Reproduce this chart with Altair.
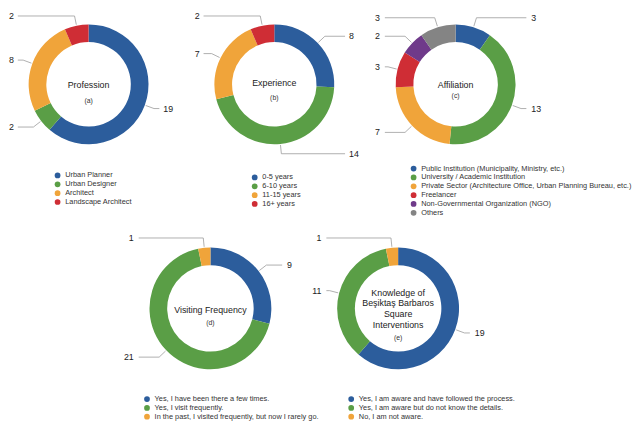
import altair as alt
import pandas as pd

BLUE = "#2c5d9c"
GREEN = "#5a9e46"
ORANGE = "#f0a43a"
RED = "#cf2d35"
PURPLE = "#6f3a8a"
GRAY = "#848484"

FONT = "Liberation Sans"

prof_cats = ["Urban Planner", "Urban Designer", "Architect", "Landscape Architect"]
prof_vals = [19, 2, 8, 2]

exp_cats = ["0-5 years", "6-10 years", "11-15 years", "16+ years"]
exp_vals = [8, 14, 7, 2]

aff_cats = [
    "Public Institution (Municipality, Ministry, etc.)",
    "University / Academic Institution",
    "Private Sector (Architecture Office, Urban Planning Bureau, etc.)",
    "Freelancer",
    "Non-Governmental Organization (NGO)",
    "Others",
]
aff_vals = [3, 13, 7, 3, 2, 3]

vis_cats = [
    "Yes, I have been there a few times.",
    "Yes, I visit frequently.",
    "In the past, I visited frequently, but now I rarely go.",
]
vis_vals = [9, 21, 1]

know_cats = [
    "Yes, I am aware and have followed the process.",
    "Yes, I am aware but do not know the details.",
    "No, I am not aware.",
]
know_vals = [19, 11, 1]

titles = {
    "a": (["Profession"], "(a)"),
    "b": (["Experience"], "(b)"),
    "c": (["Affiliation"], "(c)"),
    "d": (["Visiting Frequency"], "(d)"),
    "e": (["Knowledge of", "Beşiktaş Barbaros", "Square", "Interventions"], "(e)"),
}


def panel(cats, vals, colors, key, W, H, r_in, r_out, lend, ltxt,
          leg_x, leg_y, title_dy, sub_dy):
    df = pd.DataFrame({"cat": cats, "value": vals, "idx": list(range(len(cats)))})
    cx, cy = W / 2, H / 2
    base = (
        alt.Chart(df)
        .transform_window(cum="sum(value)", sort=[alt.SortField("idx")])
        .transform_joinaggregate(total="sum(value)")
        .transform_calculate(mid="2*PI*(datum.cum - datum.value/2)/datum.total")
        .transform_calculate(s="sin(datum.mid)")
        .transform_calculate(c="cos(datum.mid)")
        .transform_calculate(x0=f"{cx} + {r_out + 1}*datum.s")
        .transform_calculate(y0=f"{cy} - {r_out + 1}*datum.c")
        .transform_calculate(x1=f"{cx} + {r_out + 10}*datum.s")
        .transform_calculate(y1=f"{cy} - {r_out + 10}*datum.c")
        .transform_calculate(side="datum.s >= 0 ? 1 : -1")
        .transform_calculate(x2=f"{cx} + datum.side*{lend}")
        .transform_calculate(lx=f"{cx} + datum.side*{ltxt}")
    )
    arcs = base.mark_arc(innerRadius=r_in, outerRadius=r_out).encode(
        theta=alt.Theta("value:Q", stack=True),
        order=alt.Order("idx:Q"),
        color=alt.Color(
            "cat:N",
            scale=alt.Scale(domain=cats, range=colors),
            legend=alt.Legend(
                title=None,
                orient="none",
                legendX=leg_x,
                legendY=leg_y,
                symbolType="circle",
                symbolSize=34,
                symbolStrokeWidth=0,
                labelFontSize=7.5,
                labelFont=FONT,
                labelOffset=4,
                rowPadding=0,
                padding=0,
                labelLimit=400,
            ),
        ),
    )
    seg1 = base.mark_rule(color="#9a9a9a", strokeWidth=0.8).encode(
        x=alt.X("x0:Q", scale=None, axis=None),
        y=alt.Y("y0:Q", scale=None, axis=None),
        x2="x1:Q",
        y2="y1:Q",
    )
    seg2 = base.mark_rule(color="#9a9a9a", strokeWidth=0.8).encode(
        x=alt.X("x1:Q", scale=None, axis=None),
        y=alt.Y("y1:Q", scale=None, axis=None),
        x2="x2:Q",
    )
    lab_r = base.transform_filter("datum.side > 0").mark_text(
        align="left", baseline="middle", fontSize=9, font=FONT, color="#222222"
    ).encode(
        x=alt.X("lx:Q", scale=None, axis=None),
        y=alt.Y("y1:Q", scale=None, axis=None),
        text="value:Q",
    )
    lab_l = base.transform_filter("datum.side < 0").mark_text(
        align="right", baseline="middle", fontSize=9, font=FONT, color="#222222"
    ).encode(
        x=alt.X("lx:Q", scale=None, axis=None),
        y=alt.Y("y1:Q", scale=None, axis=None),
        text="value:Q",
    )
    tl, sub = titles[key]
    one = pd.DataFrame({"k": [0]})
    ttl = alt.Chart(one).mark_text(
        baseline="middle", align="center", fontSize=9, font=FONT,
        color="#222222", lineHeight=11, dy=title_dy,
    ).encode(text=alt.value(tl if len(tl) > 1 else tl[0]))
    sbt = alt.Chart(one).mark_text(
        baseline="middle", align="center", fontSize=7, font=FONT,
        color="#333333", dy=sub_dy,
    ).encode(text=alt.value(sub))
    return alt.layer(arcs, seg1, seg2, lab_r, lab_l, ttl, sbt).properties(
        width=W, height=H
    )


HT, HB = 146, 150
pa = panel(prof_cats, prof_vals, [BLUE, GREEN, ORANGE, RED], "a", 162, HT, 43, 61,
           72, 76, 45.7, 162, 0.5, 17)
pb = panel(exp_cats, exp_vals, [BLUE, GREEN, ORANGE, RED], "b", 176, HT, 43, 61,
           72, 76, 64.3, 164, -1, 14)
pc = panel(aff_cats, aff_vals, [BLUE, GREEN, ORANGE, RED, PURPLE, GRAY], "c", 153, HT,
           43, 61, 72, 77, 30, 155, 0.5, 12)
# bottom-row panels are narrow cells whose donuts overflow (flush bounds)
pdv = panel(vis_cats, vis_vals, [BLUE, GREEN, ORANGE], "d", 46, HB, 44, 62,
            73, 78, -45.3, 163.5, 1.5, 15)
pe = panel(know_cats, know_vals, [BLUE, GREEN, ORANGE], "e", 36, HB, 44, 62,
           73, 78, -33.5, 163.5, -16, 30)

spacer = alt.Chart(pd.DataFrame({"k": [0]})).mark_point(opacity=0).properties(
    width=10, height=HB
)

chart = (
    alt.concat(
        pa, pb, pc, spacer, pdv, pe,
        columns=3,
        bounds="flush",
        spacing=alt.RowColnumber(row=80, column=20),
    )
    .resolve_scale(color="independent", theta="independent", x="independent", y="independent")
    .properties(padding=0, background="white")
    .configure_view(stroke=None)
    .configure_legend(labelColor="#333333")
)

chart.save("out.html", embed_options={"renderer": "svg", "actions": False})
